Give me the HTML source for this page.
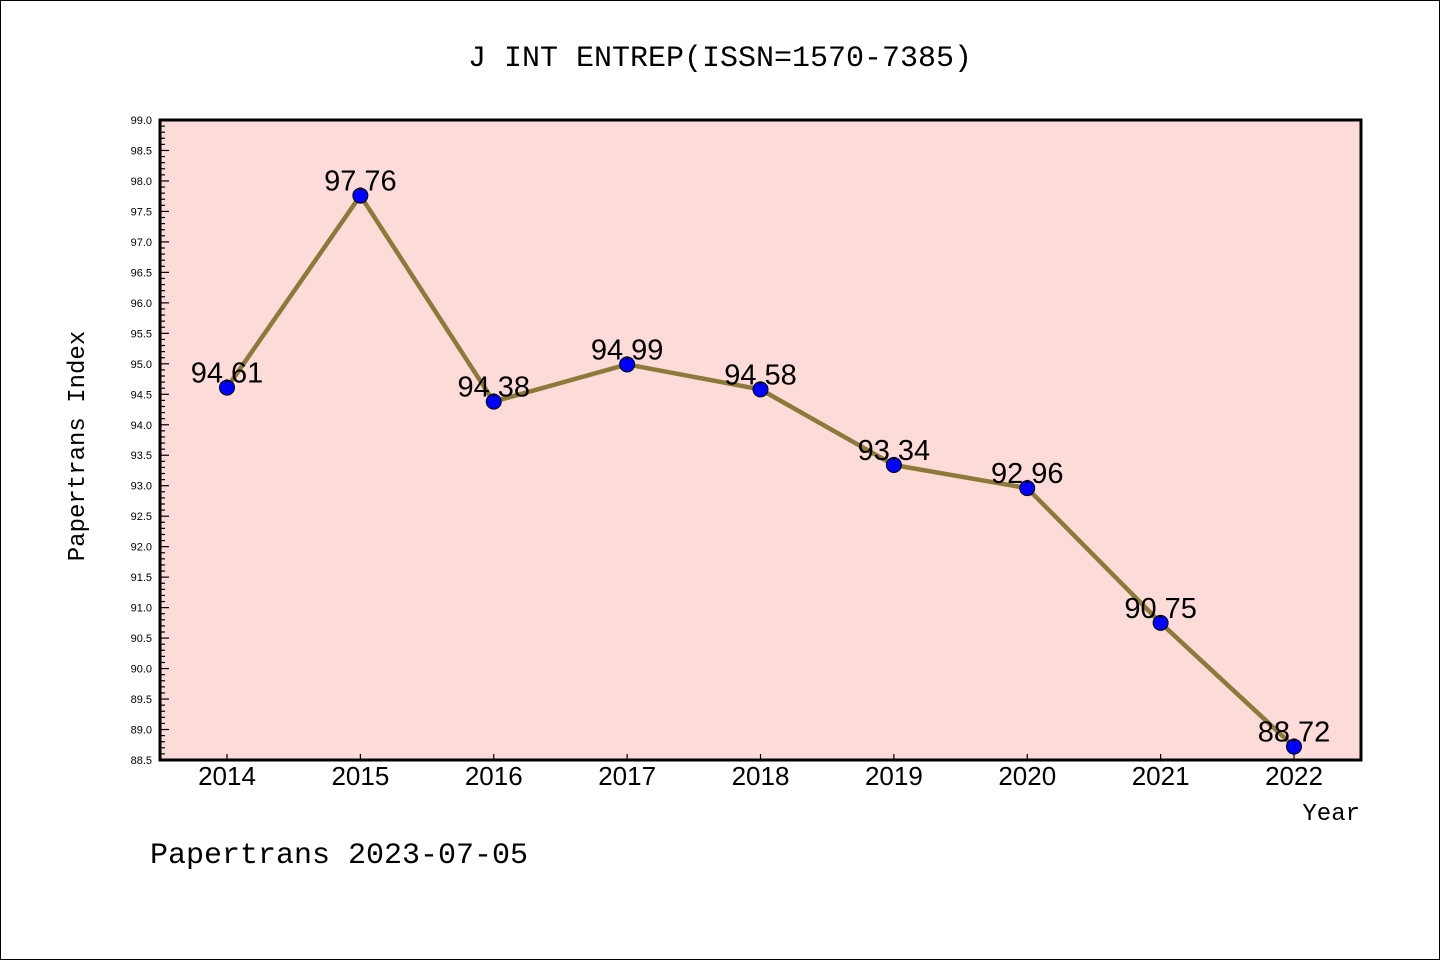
<!DOCTYPE html>
<html><head><meta charset="utf-8"><style>
html,body{margin:0;padding:0;background:#fff}
svg{display:block;font-family:"Liberation Sans","DejaVu Sans",sans-serif}
.wq{font-family:"WenQuanYi Zen Hei","Liberation Sans",sans-serif}
</style></head><body>
<svg id="chart" width="1440" height="960" viewBox="0 0 1440 960">
<rect x="0.5" y="0.5" width="1439" height="959" fill="#fff" stroke="#000"/>
<text x="720" y="66" text-anchor="middle" font-size="30" font-family="'Liberation Mono','DejaVu Sans Mono',monospace">J INT ENTREP(ISSN=1570-7385)</text>
<rect x="160" y="120" width="1201" height="640" fill="#fddbd8"/>
<g id="yaxis"></g>
<g id="xaxis"></g>
<g id="series"></g>
<rect x="160" y="120" width="1201" height="640" fill="none" stroke="#000" stroke-width="3"/>
<text transform="translate(84,446) rotate(-90)" text-anchor="middle" font-size="24" font-family="'Liberation Mono','DejaVu Sans Mono',monospace">Papertrans Index</text>
<text x="1360" y="820" text-anchor="end" font-size="24" font-family="'Liberation Mono','DejaVu Sans Mono',monospace">Year</text>
<text x="150" y="863" font-size="30" font-family="'Liberation Mono','DejaVu Sans Mono',monospace">Papertrans 2023-07-05</text>
</svg>
<script>
const years = ["2014","2015","2016","2017","2018","2019","2020","2021","2022"];
const values = [94.61,97.76,94.38,94.99,94.58,93.34,92.96,90.75,88.72];
const labels = ["94.61","97.76","94.38","94.99","94.58","93.34","92.96","90.75","88.72"];
const yMin = 88.5, yMax = 99.0;
const NS="http://www.w3.org/2000/svg";
function mk(t,a,p){const e=document.createElementNS(NS,t);for(const k in a)e.setAttribute(k,a[k]);p.appendChild(e);return e;}
const X0=160,X1=1361,Y0=120,Y1=760;
const xi=i=>227+i*(1294-227)/(years.length-1);
const ys=v=>Y1-(v-yMin)/(yMax-yMin)*(Y1-Y0);
const ya=document.getElementById('yaxis');
for(let k=0;k<=Math.round((yMax-yMin)*10);k++){
  const v=yMin+k*0.1, y=ys(v), major=k%5===0;
  const t=mk('line',{x1:X0,x2:X0+(major?9:5),y1:y,y2:y,stroke:'#000','stroke-width':1.2},ya);
  
  
  if(major){const l=mk('text',{x:152,y:y+4,'text-anchor':'end','font-size':11},ya);l.textContent=v.toFixed(1);
    
    }
}
const xa=document.getElementById('xaxis');
years.forEach((yr,i)=>{const x=xi(i);
  const t=mk('line',{x1:x,x2:x,y1:Y1,y2:Y1-6,stroke:'#000','stroke-width':1.2},xa);
  
  
  const l=mk('text',{x:x,y:785,'text-anchor':'middle','font-size':26,'class':'wq'},xa);l.textContent=yr;
  
  
});
const s=document.getElementById('series');
const pl=mk('polyline',{points:values.map((v,i)=>xi(i)+','+ys(v)).join(' '),fill:'none',stroke:'#8c7a3a','stroke-width':4.5,'stroke-linejoin':'round'},s);


values.forEach((v,i)=>{
  const c=mk('circle',{cx:xi(i),cy:ys(v),r:7.5,fill:'#0000ff',stroke:'#000','stroke-width':1},s);
  
  
  const l=mk('text',{x:xi(i),y:ys(v)-5,'text-anchor':'middle','font-size':29,'class':'wq'},s);l.textContent=labels[i];
  
  
});
</script>
</body></html>
